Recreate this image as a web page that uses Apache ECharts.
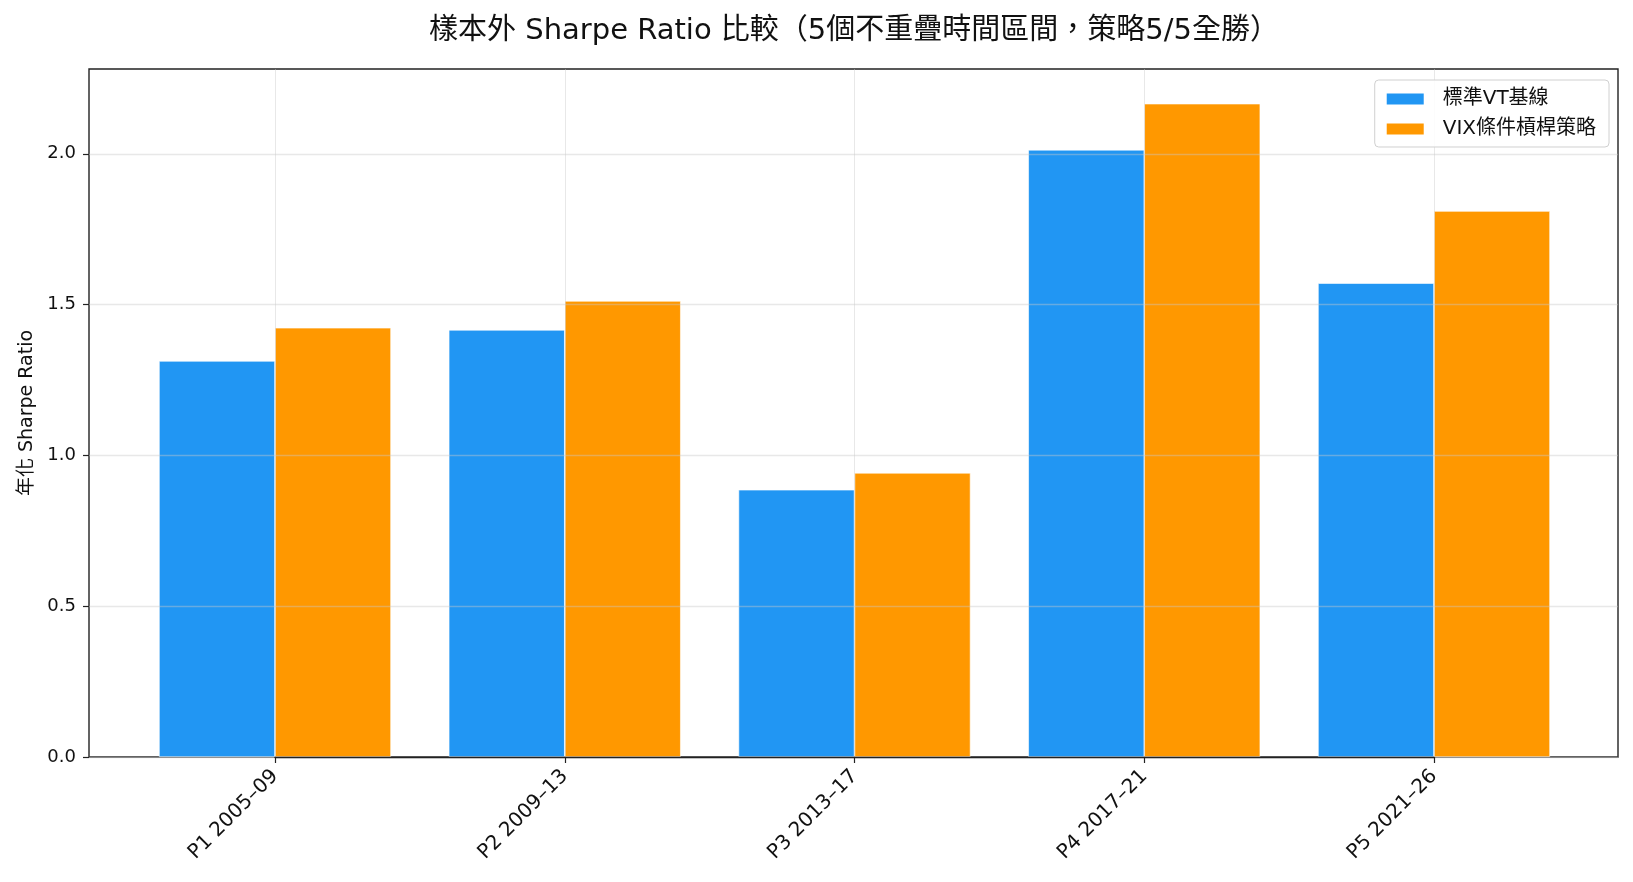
<!DOCTYPE html>
<html>
<head>
<meta charset="utf-8">
<script src="https://cdn.jsdelivr.net/npm/echarts@6/dist/echarts.min.js"></script>
<style>
  html, body { margin: 0; padding: 0; background: #fff; }
  #main { width: 1633px; height: 882px; }
</style>
</head>
<body>
<div id="main"></div>
<script>
  // 資料
  const periods = ['P1 2005–09', 'P2 2009–13', 'P3 2013–17', 'P4 2017–21', 'P5 2021–26']
  const baseline = [1.313, 1.416, 0.886, 2.013, 1.571]
  const vixStrategy = [1.423, 1.512, 0.942, 2.166, 1.810]
  const yTicks = [0, 0.5, 1.0, 1.5, 2.0]
  const yMax = 2.281

  const font = '"DejaVu Sans", "Noto Sans CJK TC", sans-serif'
  const ink = '#222'
  const gridColor = 'rgba(200,200,200,0.42)'

  const myChart = echarts.init(document.getElementById('main'))
  myChart.setOption({
    backgroundColor: '#fff',
    textStyle: { fontFamily: font },
    title: {
      text: '樣本外 Sharpe Ratio 比較（5個不重疊時間區間，策略5/5全勝）',
      left: 854,
      top: 17,
      padding: 0,
      textAlign: 'center',
      textStyle: { fontFamily: font, fontSize: 29, fontWeight: 'normal', color: '#111' }
    },
    legend: {
      orient: 'vertical',
      right: 24,
      top: 80,
      data: ['標準VT基線', 'VIX條件槓桿策略'],
      itemWidth: 39,
      itemHeight: 13,
      itemGap: 10,
      padding: [9, 13, 8, 10],
      borderColor: '#d0d0d0',
      borderWidth: 1,
      borderRadius: 4,
      backgroundColor: 'rgba(255,255,255,0.85)',
      textStyle: { fontFamily: font, fontSize: 20, color: '#111', padding: [0, 0, 0, 13] },
      icon: 'rect'
    },
    grid: [
      // 外框
      { left: 89, right: 15, top: 69, bottom: 125, show: true, borderColor: ink, borderWidth: 1.4, backgroundColor: 'transparent' },
      // 長條區
      { left: 275, right: 199, top: 69, bottom: 125 }
    ],
    xAxis: [
      { gridIndex: 0, type: 'value', min: 0, max: 1, show: false },
      {
        gridIndex: 1,
        type: 'category',
        data: periods,
        boundaryGap: false,
        z: 3,
        axisLine: { show: true, lineStyle: { color: ink, width: 1.4 } },
        axisTick: { show: true, length: 6, lineStyle: { color: ink, width: 1.2 } },
        axisLabel: { rotate: 45, fontSize: 20, color: '#111', margin: 16, fontFamily: font },
        splitLine: { show: true, lineStyle: { color: gridColor, width: 1 } }
      }
    ],
    yAxis: [
      {
        gridIndex: 0,
        type: 'value',
        min: 0,
        max: yMax,
        interval: 0.5,
        z: 3,
        name: '年化 Sharpe Ratio',
        nameLocation: 'middle',
        nameGap: 52,
        nameTextStyle: { fontSize: 19, color: '#111', fontFamily: font },
        axisLine: { show: false },
        axisTick: { show: true, length: 6, customValues: yTicks, lineStyle: { color: ink, width: 1.2 } },
        axisLabel: {
          fontSize: 18, color: '#111', margin: 13, fontFamily: font,
          customValues: yTicks,
          formatter: (v) => v.toFixed(1)
        },
        splitLine: { show: true, lineStyle: { color: gridColor, width: 1.4 } }
      },
      { gridIndex: 1, type: 'value', min: 0, max: yMax, show: false }
    ],
    series: [
      {
        name: '標準VT基線',
        type: 'bar',
        xAxisIndex: 1,
        yAxisIndex: 1,
        data: baseline,
        barWidth: 116,
        barGap: '0%',
        clip: false,
        itemStyle: { color: '#2196F3', borderColor: '#fff', borderWidth: 0.6 }
      },
      {
        name: 'VIX條件槓桿策略',
        type: 'bar',
        xAxisIndex: 1,
        yAxisIndex: 1,
        data: vixStrategy,
        barWidth: 116,
        barGap: '0%',
        clip: false,
        itemStyle: { color: '#FF9800', borderColor: '#fff', borderWidth: 0.6 }
      }
    ]
  })
</script>
</body>
</html>
